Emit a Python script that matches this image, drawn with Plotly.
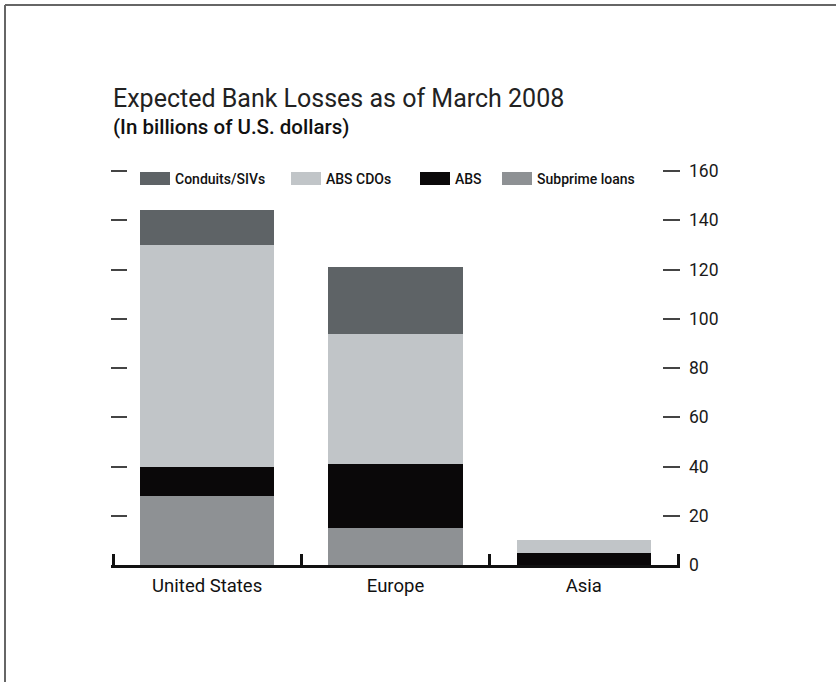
import plotly.graph_objects as go

# ---- data ----
regions = ["United States", "Europe", "Asia"]
subprime_loans = [28, 15, 0]
abs_loans = [12, 26, 5]
abs_cdos = [90, 53, 5]
conduits_sivs = [14, 27, 0]

series_names = ["Subprime loans", "ABS", "ABS CDOs", "Conduits/SIVs"]
series_values = [subprime_loans, abs_loans, abs_cdos, conduits_sivs]
series_colors = ["#8e9194", "#0a0809", "#c1c5c8", "#5e6366"]

y_ticks = [0, 20, 40, 60, 80, 100, 120, 140, 160]

title_text = "Expected Bank Losses as of March 2008"
subtitle_text = "(In billions of U.S. dollars)"

FONT = "Roboto"

fig = go.Figure()
for name, vals, col in zip(series_names, series_values, series_colors):
    fig.add_trace(go.Bar(
        x=regions, y=vals, name=name,
        marker=dict(color=col, line=dict(width=0)),
        showlegend=False,
    ))
# invisible helper trace so the right-hand value axis is drawn
fig.add_trace(go.Scatter(x=[regions[0]], y=[y_ticks[0]], yaxis="y2", mode="markers",
                         marker=dict(opacity=0), hoverinfo="skip", showlegend=False))

# ---- geometry (pixels) ----
W, H = 836, 682
X_LEFT_EDGE, X_RIGHT_EDGE = 113, 678      # category boundaries -0.5 and 2.5
Y_ZERO, Y_TOP_TICK = 565, 171             # value 0 and value 160
L, R, T = 111, 156, 168
unit_x = (X_RIGHT_EDGE - X_LEFT_EDGE) / 3.0
x_range = [-0.5 - (X_LEFT_EDGE - L) / unit_x, 2.5 + ((W - R) - X_RIGHT_EDGE) / unit_x]
unit_y = (Y_ZERO - Y_TOP_TICK) / 160.0
y_range = [0, 160 + (Y_TOP_TICK - T) / unit_y]
B = H - Y_ZERO
pw = W - L - R
ph = H - T - B

def px(x):
    return (x - L) / pw

def py(y):
    return (H - B - y) / ph

shapes = []
annotations = []

# custom legend (order as in the reference)
legend_items = [
    ("Conduits/SIVs", "#5e6366", 140),
    ("ABS CDOs", "#c1c5c8", 291),
    ("ABS", "#0a0809", 420),
    ("Subprime loans", "#8e9194", 502),
]
for name, col, x0 in legend_items:
    shapes.append(dict(type="rect", xref="paper", yref="paper",
                       x0=px(x0), x1=px(x0 + 30), y0=py(185), y1=py(172),
                       fillcolor=col, line=dict(width=0), layer="above"))
    annotations.append(dict(xref="paper", yref="paper", x=px(x0 + 33), y=py(178.5),
                            xanchor="left", yanchor="middle", showarrow=False,
                            text=name, font=dict(family=FONT, size=14, color="#111111", weight=500)))

# title and subtitle
annotations.append(dict(xref="paper", yref="paper", x=px(111), y=py(98),
                        xanchor="left", yanchor="middle", showarrow=False,
                        text=title_text, font=dict(family=FONT, size=25, color="#222222")))
annotations.append(dict(xref="paper", yref="paper", x=px(111), y=py(127),
                        xanchor="left", yanchor="middle", showarrow=False,
                        text=subtitle_text, font=dict(family=FONT, size=20.5, color="#111111", weight=500)))

# frame lines (top and left)
shapes.append(dict(type="line", xref="paper", yref="paper",
                   x0=px(5), x1=px(W + 5), y0=py(5), y1=py(5),
                   line=dict(color="#666666", width=2)))
shapes.append(dict(type="line", xref="paper", yref="paper",
                   x0=px(5), x1=px(5), y0=py(5), y1=py(H + 5),
                   line=dict(color="#666666", width=2)))

fig.update_layout(
    width=W, height=H,
    margin=dict(l=L, r=R, t=T, b=B, autoexpand=False),
    paper_bgcolor="white", plot_bgcolor="white",
    barmode="stack", bargap=0.287,
    font=dict(family=FONT, color="#111111"),
    shapes=shapes, annotations=annotations,
    showlegend=False,
    xaxis=dict(
        type="category", range=x_range,
        showline=True, linecolor="#111111", linewidth=2.5,
        ticks="inside", tickson="boundaries", ticklen=11, tickwidth=2.5, tickcolor="#111111",
        tickfont=dict(family=FONT, size=18.5, color="#111111"),
        showgrid=False, zeroline=False, ticklabelstandoff=2,
    ),
    yaxis=dict(
        range=y_range, side="left",
        tickvals=y_ticks, ticks="inside", ticklen=16, tickwidth=1.5, tickcolor="#444444",
        showticklabels=False, showgrid=False, zeroline=False, showline=False,
    ),
    yaxis2=dict(
        range=y_range, side="right", overlaying="y", anchor="x",
        tickvals=y_ticks, ticks="inside", ticklen=17, tickwidth=1.5, tickcolor="#444444",
        tickfont=dict(family=FONT, size=17.5, color="#1a1a1a"),
        showgrid=False, zeroline=False, showline=False, ticklabelstandoff=8,
    ),
)

fig.write_html("out.html", config={"displayModeBar": False},
               post_script="document.body.style.margin='0px';")
